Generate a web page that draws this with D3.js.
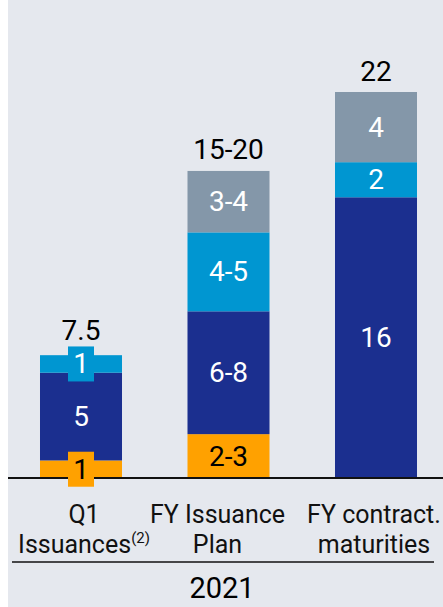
<!DOCTYPE html>
<html>
<head>
<meta charset="utf-8">
<script src="https://cdn.jsdelivr.net/npm/d3@7"></script>
<style>
  html, body { margin: 0; padding: 0; background: #fff; }
  svg { display: block; font-family: Roboto, "Liberation Sans", sans-serif; }
</style>
</head>
<body>
<svg id="chart" width="443" height="607"></svg>
<script>
// ── Data ─────────────────────────────────────────────────────────────────────

const categories  = ["Q1", "FY Plan", "FY maturities"];
const catLines    = [["Q1", "Issuances"], ["FY Issuance", "Plan"], ["FY contract.", "maturities"]];
const catSup      = ["(2)", "", ""];
const segKeys     = ["orange", "navy", "blue", "grey"];

const valOrange   = [1, 2.5, 0];
const valNavy     = [5, 7, 16];
const valBlue     = [1, 4.5, 2];
const valGrey     = [0, 3.5, 4];

const lblOrange   = ["1", "2-3", ""];
const lblNavy     = ["5", "6-8", "16"];
const lblBlue     = ["1", "4-5", "2"];
const lblGrey     = ["", "3-4", "4"];

const totals      = ["7.5", "15-20", "22"];
const yearLabel   = "2021";

// ── Styles ───────────────────────────────────────────────────────────────────

const colors    = { orange: "#ffa100", navy: "#1b2f8f", blue: "#0096d1", grey: "#8497a9" };
const textColor = { orange: "#000", navy: "#fff", blue: "#fff", grey: "#fff" };
const labelShift = [3, -11, -2];   // category text sits a little off the bar centre

const W = 443, H = 607;
const svg = d3.select("#chart");

// panel background
svg.append("rect").attr("x", 8).attr("y", 0).attr("width", W - 8).attr("height", H)
  .attr("fill", "#e5e8ee");

const x = d3.scaleBand().domain(categories)
  .range([7.25, 449.75]).paddingInner(0.444).paddingOuter(0.222);
const y = d3.scaleLinear().domain([0, 22]).range([478, 92]);

const rows = categories.map((c, i) => ({
  cat: c, orange: valOrange[i], navy: valNavy[i], blue: valBlue[i], grey: valGrey[i]
}));
const labels = { orange: lblOrange, navy: lblNavy, blue: lblBlue, grey: lblGrey };

const stack = d3.stack().keys(segKeys)(rows);

// bars
const layer = svg.append("g").selectAll("g").data(stack).join("g")
  .attr("fill", d => colors[d.key]);

layer.selectAll("rect").data(d => d.filter(s => s[1] > s[0])).join("rect")
  .attr("x", d => x(d.data.cat))
  .attr("y", d => y(d[1]))
  .attr("width", x.bandwidth())
  .attr("height", d => y(d[0]) - y(d[1]));

// baseline
svg.append("line").attr("x1", 8).attr("x2", W).attr("y1", y(0)).attr("y2", y(0))
  .attr("stroke", "#111").attr("stroke-width", 2);

// segment labels (small segments get a coloured tag box)
stack.forEach(s => {
  s.forEach((d, i) => {
    const txt = labels[s.key][i];
    if (!txt || d[1] <= d[0]) return;
    const cx = x(d.data.cat) + x.bandwidth() / 2;
    const cy = (y(d[0]) + y(d[1])) / 2;
    if (y(d[0]) - y(d[1]) < 30) {
      svg.append("rect").attr("x", cx - 13).attr("y", cy - 17.5)
        .attr("width", 26).attr("height", 35).attr("fill", colors[s.key]);
    }
    svg.append("text").attr("x", cx).attr("y", cy)
      .attr("text-anchor", "middle").attr("dominant-baseline", "central")
      .attr("font-size", 28).attr("fill", textColor[s.key])
      .text(txt);
  });
});

// totals
const tops = [340, 159, 81];
categories.forEach((c, i) => {
  svg.append("text")
    .attr("x", x(c) + x.bandwidth() / 2).attr("y", tops[i])
    .attr("text-anchor", "middle").attr("font-size", 28).attr("fill", "#000")
    .text(totals[i]);
});

// category labels
categories.forEach((c, i) => {
  const cx = x(c) + x.bandwidth() / 2 + labelShift[i];
  catLines[i].forEach((line, j) => {
    const t = svg.append("text").attr("x", cx).attr("y", 523 + j * 30)
      .attr("text-anchor", "middle").attr("font-size", 25).attr("fill", "#111");
    t.append("tspan").text(line);
    if (j === 1 && catSup[i]) {
      t.append("tspan").attr("font-size", 15).attr("dy", -10).text(catSup[i]);
    }
  });
});

// year separator
svg.append("line").attr("x1", 12).attr("x2", 434).attr("y1", 562).attr("y2", 562)
  .attr("stroke", "#111").attr("stroke-width", 1.5);
svg.append("text").attr("x", 222).attr("y", 598)
  .attr("text-anchor", "middle").attr("font-size", 29).attr("fill", "#000")
  .text(yearLabel);
</script>
</body>
</html>
